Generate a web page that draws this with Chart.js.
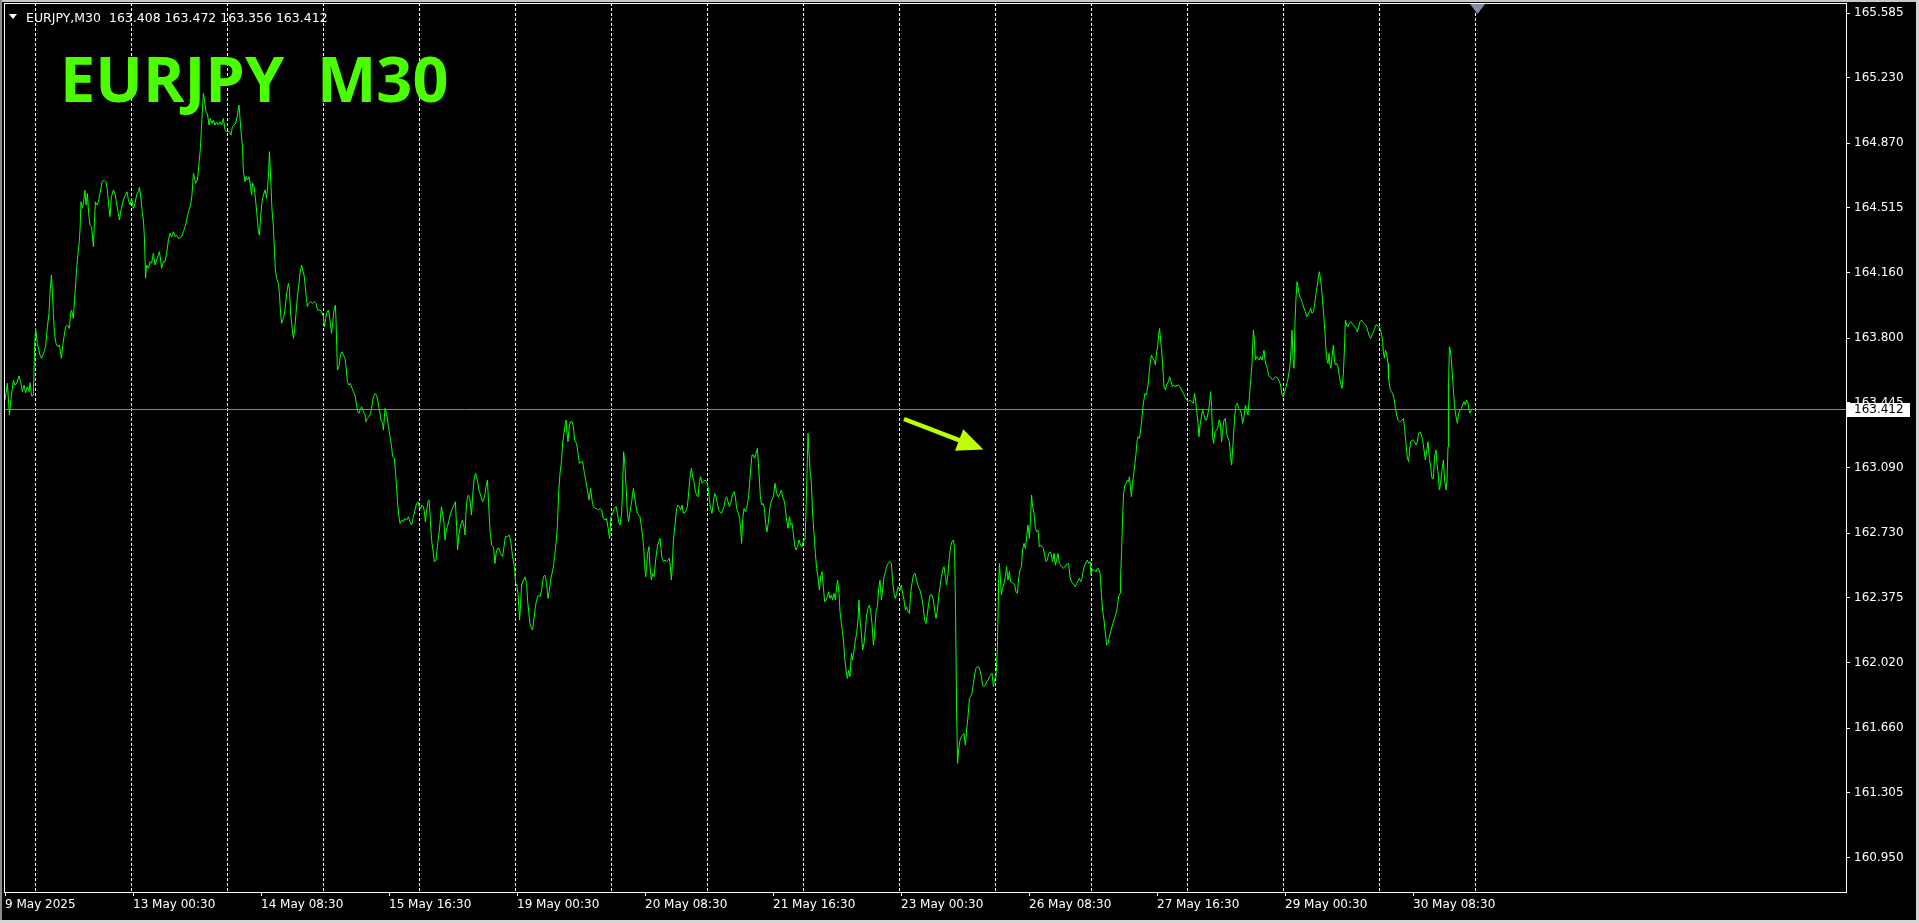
<!DOCTYPE html>
<html>
<head>
<meta charset="utf-8">
<title>EURJPY M30</title>
<script src="https://cdn.jsdelivr.net/npm/chart.js@4.4.1/dist/chart.umd.min.js"></script>
<style>
  html, body { margin: 0; padding: 0; background: #000; overflow: hidden; }
  #wrap { position: relative; width: 1919px; height: 923px; }
  #chart { position: absolute; left: 0; top: 0; }
  .tri { position: absolute; left: 9px; top: 14px; width: 0; height: 0;
         border-left: 4px solid transparent; border-right: 4px solid transparent; border-top: 5px solid #fff; }
  .hdr { position: absolute; left: 26px; top: 12px; color: #fff; white-space: pre;
         font: 12.5px/12.5px "DejaVu Sans", sans-serif; }
  .big { position: absolute; left: 60px; top: 46px; color: #4cff00; white-space: pre;
         font: bold 63px/63px "Open Sans", sans-serif; }
</style>
</head>
<body>
<div id="wrap">
  <canvas id="chart" width="1919" height="923"></canvas>
  <div class="tri"></div>
  <div class="hdr">EURJPY,M30  163.408 163.472 163.356 163.412</div>
  <div class="big">EURJPY  M30</div>
</div>
<script>
// M30 closes: [bar number from 9 May 16:30, price]
const closesWeek1 = [
  [0,163.461],[1.2,163.553],[2.2,163.379],[3.3,163.497],[4.2,163.571],[5,163.543],[5.8,163.553],[7,163.593],[7.8,163.562],[8.7,163.507],
  [9.5,163.543],[10.3,163.501],[11.2,163.534],[12,163.507],[12.5,163.556],[13.3,163.483],[14.2,163.488],[14.8,163.754],[15.3,163.854],[16.2,163.772],
  [17.5,163.708],[18.3,163.690],[19.5,163.726],[20.3,163.754],[21.2,163.863],[22,163.937],[22.5,164.046],[23.2,164.147],[23.7,164.046],[24.2,163.937],
  [24.7,163.827],[25.5,163.772],[26.3,163.754],[27.2,163.763],[28.2,163.690],[28.8,163.754],[29.5,163.808],[30.3,163.863],[31.3,163.872],[32.2,163.854],
  [32.8,163.937],[33.3,163.955],[34.2,163.909],[34.5,163.973],[35.2,164.074],[35.8,164.184],[36.5,164.266],[37,164.312],[37.5,164.394],[38,164.549],
  [38.7,164.513],[39.2,164.540],[40,164.613],[40.5,164.531],[41.2,164.595],[41.8,164.485],[42.5,164.421],[43.3,164.412],[44.2,164.302],[44.7,164.430],
  [45.2,164.549],[45.8,164.531],[46.7,164.549],[47.5,164.595],[48.5,164.659],[49.7,164.668],[50.5,164.659],[51.2,164.614],[52,164.513],[52.5,164.467],
  [53.2,164.577],[54.2,164.614],[55,164.595],[55.8,164.540],[56.7,164.485],[57.2,164.449],[58,164.504],[59.2,164.559],[60.2,164.586],[61,164.604],
  [61.7,164.559],[62.5,164.531],[63.3,164.568],[64.2,164.513],[65,164.540],[65.8,164.586],[66.7,164.604],[67.2,164.628],[67.8,164.586],[68.7,164.485],
  [69.2,164.449],[69.7,164.357],[70.3,164.129],[70.8,164.202],[71.7,164.184],[72.5,164.220],[73.3,164.211],[74.2,164.266],[75,164.202],[75.8,164.229],
  [76.7,164.257],[77.2,164.275],[77.8,164.229],[78.3,164.184],[79.2,164.220],[80,164.220],[80.8,164.266],[81.7,164.339],[82.5,164.376],[83.3,164.357],
  [84.2,164.385],[85,164.357],[85.8,164.366],[86.7,164.348],[88.3,164.357],[89.2,164.385],[90.3,164.421],[91.7,164.495],[92.8,164.531],[93.5,164.586],
  [94.2,164.705],[94.7,164.687],[95.3,164.650],[96.2,164.668],[97,164.760],[97.7,164.842],[98.2,164.952],[98.7,165.053],[99.2,165.144],[99.7,165.107],
  [100.5,165.043],[101.2,165.034],[102,164.970],[102.5,165.007],[103.5,164.979],[104.2,164.998],[105,164.970],[105.8,164.988],[106.7,164.970],[107.5,164.988],
  [108.3,164.970],[109.2,165.007],[110,164.943],[110.8,164.934],[112.2,164.934],[113,164.915],[113.7,164.961],[114.5,164.970],[115.3,164.979],[116.2,165.025],
  [117,165.080],[117.5,165.007],[118,164.934],[118.7,164.860],[119.2,164.714],[120,164.659],[120.5,164.687],[121.2,164.668],[122,164.687],[122.8,164.632],
  [123.3,164.586],[123.8,164.650],[124.5,164.632],[125.3,164.559],[126.2,164.449],[126.7,164.385],[127.2,164.366],[127.8,164.467],[128.5,164.549],[129.2,164.586],
  [130,164.614],[130.8,164.568],[131.3,164.632],[131.8,164.705],[132.2,164.824],[132.5,164.760],[133,164.632],[133.5,164.504],[134.2,164.412],[134.7,164.284],
  [135.2,164.174],[135.8,164.129],[136.7,164.101],[137.2,164.046],[137.8,163.937],[138.3,163.882],[139.2,163.909],[140,163.955],[140.8,164.046],[141.7,164.101],
  [142.2,164.074],[142.8,163.937],[143.5,163.863],[144.2,163.799],[144.8,163.845],[145.5,163.937],[146.2,164.028],[146.8,164.083],[147.5,164.156],[148.3,164.202],
  [148.8,164.174],[149.5,164.147],[150,164.101],[150.5,164.037],[151.2,163.973],[151.8,163.991],[152.8,164.001],[153.7,163.991],[154.7,164.001],[155.5,163.991],
  [156.3,163.955],[157.5,163.955],[158.3,163.946],[159.2,163.918],[159.7,163.863],[160.3,163.909],[160.8,163.937],[161.7,163.955],[162.2,163.927],[162.8,163.863],
  [163.3,163.827],[163.8,163.882],[164.5,163.955],[165.2,163.982],[165.5,163.900],[166.2,163.626],[167,163.644],[167.5,163.690],[168,163.717],[168.5,163.726],
  [169.2,163.708],[170,163.690],[170.5,163.644],[171.2,163.562],[172,163.543],[172.7,163.553],[173.5,163.525],[174.2,163.507],[175,163.488],[175.8,163.433],
  [176.3,163.397],[177,163.388],[177.5,163.406],[178.3,163.424],[179.2,163.397],[180,163.379],[180.5,163.342],[181.2,163.360],[182,163.369],[182.8,163.388],
  [183.7,163.443],[184.2,163.479],[185,163.497],[185.8,163.488],[186.3,163.461],[187,163.415],[187.5,163.388],[188,163.351],[188.8,163.333],[189.2,163.296],
  [189.7,163.369],[190,163.415],[190.8,163.388],[191.7,163.314],[192.5,163.260],[193.3,163.205],[193.8,163.150],[194.7,163.141],[195.3,163.058],[195.8,162.985],
  [196.3,162.894],[197,162.820],[197.5,162.784],[198.3,162.802],[199.2,162.793],[200,162.811],[200.8,162.802],[201.7,162.820],[202.5,162.793],[203.3,162.775],
  [204.2,162.820],[205,162.857],[205.8,162.894],[206.5,162.903],[207.2,162.875],[207.8,162.866],[208.5,162.885],[209.2,162.875],[209.7,162.848],[210.2,162.793],
  [210.8,162.857],[211.5,162.903],[212,162.912],[212.5,162.839],[213,162.738],[213.5,162.674],[214.2,162.619],[214.7,162.574],[215.5,162.583],[216.2,162.656],
  [216.8,162.711],[217.5,162.784],[218.2,162.875],[218.8,162.839],[219.5,162.784],[220,162.693],[220.5,162.738],[221.2,162.766],[222,162.802],[222.8,162.839],
  [223.7,162.866],[224.5,162.885],[225.2,162.903],[225.8,162.766],[226.3,162.638],[227,162.729],[227.8,162.775],[228.7,162.802],[229.5,162.766],[230,162.720],
  [230.5,162.848],[231.2,162.930],[231.8,162.939],[232.5,162.912],[233.2,162.830],[233.8,162.930],[234.5,163.022],[235.3,163.058],[236.2,163.022],[237,162.967]
];
const closesWeek2 = [
  [238.8,162.903],[239.8,162.930],[240.5,162.985],[241.2,163.022],[241.8,162.894],[242.5,162.747],[243.3,162.665],[244.2,162.656],[245,162.564],[245.5,162.619],
  [246.2,162.647],[247,162.647],[247.8,162.619],[248.8,162.601],[249.5,162.656],[250.2,162.711],[251.2,162.711],[252.2,162.720],[253,162.674],[253.8,162.601],
  [254.7,162.546],[255.3,162.455],[255.8,162.446],[256.5,162.400],[257.3,162.253],[257.8,162.345],[258.3,162.446],[259.2,162.473],[260,162.491],[260.8,162.455],
  [261.3,162.363],[262,162.281],[262.5,162.235],[263.2,162.208],[263.8,162.199],[264.5,162.263],[265.2,162.327],[265.8,162.363],[266.7,162.391],[267.5,162.382],
  [268.3,162.418],[269.2,162.491],[270,162.500],[270.8,162.455],[271.5,162.372],[272.2,162.418],[272.8,162.473],[273.5,162.510],[274.2,162.546],[274.8,162.601],
  [275.5,162.674],[276.2,162.766],[276.8,162.949],[277.5,163.058],[278.3,163.132],[278.8,163.223],[279.5,163.278],[280,163.324],[280.5,163.351],[281,163.278],
  [281.5,163.232],[282.2,163.324],[282.8,163.342],[283.5,163.342],[284.2,163.315],[284.8,163.241],[285.8,163.223],[286.5,163.168],[287.2,163.113],[288,163.122],
  [288.8,163.122],[289.7,163.059],[290.5,163.013],[291.2,162.967],[292,162.912],[292.8,162.976],[293.5,162.912],[294.2,162.876],[295,162.866],[295.8,162.866],
  [296.7,162.857],[297.5,162.866],[298.3,162.857],[299.2,162.812],[300,162.802],[300.8,162.812],[301.7,162.748],[302.3,162.702],[303,162.821],[303.8,162.839],
  [304.7,162.866],[305.5,162.876],[306.2,162.839],[306.8,162.793],[307.5,162.775],[308.3,162.839],[308.8,162.985],[309.3,163.177],[309.8,163.132],[310.5,162.994],
  [311.2,162.839],[311.8,162.793],[312.5,162.848],[313.3,162.903],[314.2,162.976],[314.8,162.930],[315.5,162.876],[316.2,162.839],[317.5,162.821],[318.2,162.766],
  [318.8,162.711],[319.3,162.656],[319.8,162.564],[320.3,162.491],[320.8,162.546],[321.3,162.619],[322,162.656],[322.5,162.546],[323.2,162.473],[323.8,162.510],
  [324.5,162.491],[325.5,162.601],[326.2,162.656],[326.8,162.683],[327.5,162.702],[328,162.647],[328.5,162.592],[329.2,162.574],[330,162.583],[330.8,162.574],
  [331.7,162.583],[332.2,162.592],[332.7,162.546],[333.2,162.473],[333.7,162.564],[334.2,162.693],[335,162.775],[335.8,162.866],[336.5,162.885],[337.2,162.876],
  [337.8,162.857],[338.5,162.885],[339.2,162.839],[340.3,162.848],[341.2,162.876],[341.8,162.949],[342.5,163.040],[343.2,163.086],[343.8,163.040],[344.5,163.013],
  [345.2,162.958],[345.8,162.940],[346.5,162.930],[347.2,163.013],[347.8,163.040],[348.5,163.004],[349.2,163.013],[350,163.022],[350.8,163.013],[351.5,162.985],
  [352.2,162.912],[352.8,162.866],[353.5,162.839],[354.2,162.903],[354.8,162.949],[355.5,162.930],[356.2,162.894],[356.8,162.857],[357.5,162.848],[358.2,162.839],
  [358.8,162.857],[359.5,162.876],[360.2,162.921],[360.8,162.930],[361.5,162.903],[362.2,162.876],[362.8,162.894],[363.7,162.940],[364.5,162.958],[365.2,162.930],
  [365.8,162.866],[366.7,162.839],[367.3,162.812],[367.8,162.757],[368.3,162.674],[368.8,162.802],[369.5,162.866],[370.2,162.848],[370.8,162.866],[371.7,162.921],
  [372.2,162.985],[372.8,163.077],[373.5,163.159],[374.2,163.159],[374.8,163.141],[375.5,163.168],[376.2,163.196],[376.7,163.113],[377.2,163.022],[377.7,162.930],
  [378.3,162.885],[379,162.894],[379.7,162.866],[380.3,162.784],[381,162.738],[381.7,162.793],[382.5,162.876],[383.3,162.912],[384.2,162.930],[385,163.004],
  [385.8,162.949],[386.7,162.930],[387.5,162.949],[388.2,162.967],[388.8,162.930],[389.5,162.912],[390.2,162.866],[390.8,162.802],[391.5,162.757],[392.2,162.821],
  [392.8,162.775],[393.5,162.784],[394.2,162.729],[394.8,162.665],[395.5,162.638],[396.2,162.656],[397,162.693],[397.8,162.665],[398.5,162.656],[399.2,162.693],
  [400,162.693],[400.5,162.848],[401,163.058],[401.5,163.278],[402,163.168],[402.5,163.077],[403.2,163.004],[403.8,162.839],[404.5,162.729],[405.2,162.619],
  [405.8,162.537],[406.5,162.491],[407.2,162.418],[407.8,162.491],[408.5,162.519],[409.2,162.436],[409.8,162.354],[410.5,162.363],[411.2,162.382],[411.8,162.409],
  [412.5,162.372],[413.2,162.391],[413.8,162.363],[414.5,162.400],[415.2,162.363],[415.8,162.436],[416.3,162.473],[417,162.400],[417.5,162.299],[418.3,162.226],
  [419.2,162.144],[419.8,162.052],[420.5,161.979],[421.2,161.933],[421.8,161.979],[422.5,161.943],[423.2,162.071],[423.8,162.034],[424.5,162.089],[425.2,162.144],
  [425.8,162.180],[426.5,162.253],[427,162.363],[427.5,162.253],[428.2,162.180],[428.8,162.089],[429.5,162.126],[430.2,162.199],[430.8,162.281],[431.5,162.318],
  [432.2,162.336],[432.8,162.308],[433.5,162.235],[434.2,162.116],[434.8,162.180],[435.5,162.299],[436.2,162.327],[436.8,162.418],[437.5,162.473],[438.2,162.363],
  [438.8,162.418],[439.5,162.491],[440.2,162.519],[440.8,162.546],[441.5,162.564],[442.5,162.574],[443.2,162.564],[443.8,162.464],[444.5,162.400],[445.2,162.372],
  [445.8,162.400],[446.5,162.436],[447.5,162.418],[448.2,162.446],[448.8,162.400],[449.5,162.363],[450.2,162.308],[450.8,162.327],[451.5,162.299],[452.2,162.290],
  [452.8,162.400],[453.5,162.455],[454.2,162.500],[455,162.510],[455.8,162.473],[456.7,162.436],[457.5,162.418],[458.3,162.382],[459.2,162.318],[459.8,162.253],
  [460.5,162.235],[461.2,162.290],[461.8,162.345],[462.5,162.391],[463.5,162.391],[464.2,162.363],[464.8,162.308],[465.5,162.263],[466.2,162.308],[466.8,162.382],
  [467.5,162.436],[468.2,162.491],[468.8,162.528],[469.5,162.546],[470.2,162.491],[470.8,162.446],[471.5,162.510],[472.2,162.601],[472.8,162.656],[473.5,162.683],
  [474.2,162.693],[474.8,162.647],[475.3,162.290],[475.8,161.741],[476.3,161.467],[476.8,161.540],[477.5,161.595],[478.2,161.613],[478.8,161.622],[479.5,161.631],
  [480.2,161.567],[480.8,161.650],[481.5,161.723],[482.2,161.824],[482.8,161.833],[483.5,161.851],[484.2,161.906],[484.8,161.952],[485.5,161.988],[486.2,161.997],
  [486.8,161.997],[487.5,161.979],[488.2,161.943],[488.8,161.897],[489.5,161.888],[490.2,161.897],[490.8,161.915],[491.5,161.924],[492.2,161.943],[492.8,161.952],
  [493.5,161.961],[494.2,161.888],[494.8,161.924],[495.5,161.943],[496.2,162.098],[496.8,162.455],[497.2,162.564]
];
const closesWeek3 = [
  [498.2,162.391],[498.8,162.427],[499.5,162.455],[500.2,162.491],[500.8,162.546],[501.5,162.473],[502.2,162.519],[502.8,162.464],[504.2,162.455],[504.8,162.446],
  [505.5,162.409],[506.2,162.400],[506.8,162.482],[507.5,162.528],[508.2,162.546],[508.8,162.638],[509.5,162.674],[510.2,162.647],[510.8,162.711],[511.5,162.775],
  [512.2,162.702],[512.8,162.821],[513.3,162.940],[513.8,162.876],[514.5,162.839],[515.2,162.757],[515.8,162.738],[516.5,162.747],[517.2,162.656],[517.8,162.665],
  [519.2,162.647],[519.8,162.610],[520.5,162.574],[521.2,162.583],[521.8,162.619],[522.5,162.628],[523.2,162.610],[523.8,162.574],[524.5,162.619],[525.2,162.555],
  [525.8,162.583],[526.5,162.619],[527.2,162.564],[528.5,162.546],[529.2,162.537],[530.5,162.555],[531.8,162.564],[532.5,162.491],[533.2,162.464],[534.5,162.446],
  [535.2,162.436],[535.8,162.455],[537.2,162.482],[537.8,162.464],[538.5,162.482],[539.2,162.528],[539.8,162.555],[541.2,162.583],[541.8,162.564],[542.5,162.574],
  [543,162.500],[543.5,162.528],[544.8,162.528],[545.5,162.519],[546.2,162.537],[546.8,162.537],[547.5,162.510],[548.2,162.400],[548.8,162.308],[549.5,162.253],
  [550.2,162.180],[550.8,162.116],[551.5,162.125],[552.2,162.162],[552.8,162.189],[553.5,162.217],[554.2,162.244],[554.8,162.263],[555.5,162.290],[556.2,162.327],
  [556.8,162.382],[557.5,162.400],[557.8,162.491],[558.3,162.629],[558.8,162.821],[559.3,162.949],[560,162.994],[560.5,163.004],[561.2,163.022],[561.8,163.013],
  [562.2,163.040],[562.7,162.985],[563.2,162.931],[563.7,163.004],[564.2,163.040],[564.8,163.095],[565.5,163.168],[566,163.232],[566.5,163.260],[567.2,163.251],
  [567.8,163.296],[568.3,163.342],[568.8,163.406],[569.3,163.452],[570,163.497],[570.5,163.488],[571,163.507],[571.5,163.543],[572,163.598],[572.5,163.653],
  [573.2,163.708],[573.8,163.690],[574.5,163.680],[575.2,163.653],[575.8,163.726],[576.3,163.754],[576.8,163.818],[577.3,163.854],[577.8,163.790],[578.3,163.735],
  [578.7,163.680],[579.2,163.589],[579.5,163.534],[580.2,163.516],[580.8,163.543],[581.7,163.562],[582.3,163.589],[583,163.562],[583.7,163.534],[584.3,163.543],
  [585,163.534],[586.7,163.543],[587.5,163.534],[588.3,163.516],[589.2,163.497],[590,163.479],[590.8,163.461],[591.7,163.452],[592.5,163.461],[593.3,163.452],
  [594.2,163.443],[594.8,163.497],[595.3,163.461],[595.8,163.406],[596.5,163.333],[597,163.260],[597.5,163.324],[598.2,163.370],[598.8,163.406],[599.5,163.379],
  [600.2,163.351],[600.8,163.351],[601.5,163.388],[602.2,163.433],[602.8,163.507],[603.3,163.424],[603.8,163.260],[604.3,163.223],[605,163.287],[605.7,163.296],
  [606.3,163.305],[607,163.351],[607.7,163.333],[608.3,163.232],[608.8,163.296],[609.5,163.351],[610.2,163.360],[610.8,163.278],[611.5,163.251],[612.2,163.232],
  [612.8,163.150],[613.3,163.104],[613.8,163.187],[614.3,163.269],[614.8,163.370],[615.5,163.433],[616.2,163.443],[616.8,163.415],[617.5,163.406],[618.2,163.388],
  [618.8,163.333],[619.5,163.370],[620.2,163.433],[620.8,163.406],[621.5,163.379],[622.2,163.479],[622.8,163.562],[623.5,163.662],[624.2,163.845],[624.7,163.790],
  [625.2,163.680],[625.8,163.699],[627.2,163.680],[627.8,163.699],[628.5,163.680],[629.2,163.717],[629.5,163.735],[630,163.680],[630.5,163.653],[631.2,163.635],
  [631.8,163.598],[633.2,163.580],[633.8,163.571],[635.2,163.589],[636.5,163.580],[637.2,163.562],[637.8,163.543],[638.5,163.488],[639.2,163.479],[639.8,163.507],
  [640.5,163.534],[641.2,163.562],[641.8,163.598],[642.5,163.653],[643,163.735],[643.5,163.845],[644,163.690],[644.5,163.635],[645,163.891],[645.5,164.019],
  [646,164.110],[646.5,164.083],[647,164.046],[647.5,164.028],[648.2,164.010],[648.8,163.991],[649.5,163.964],[650.2,163.946],[650.8,163.918],[651.5,163.928],
  [652.2,163.946],[652.8,163.964],[653.5,163.937],[654.2,163.946],[654.8,163.982],[655.5,164.046],[656.2,164.092],[656.7,164.138],[657.2,164.165],[657.7,164.129],
  [658.2,164.083],[658.8,164.001],[659.5,163.909],[660,163.827],[660.5,163.735],[661,163.680],[661.5,163.662],[662,163.717],[662.5,163.653],[663,163.635],
  [663.5,163.699],[664.2,163.763],[664.7,163.680],[665.2,163.653],[665.8,163.662],[666.5,163.644],[667.2,163.589],[667.8,163.552],[668.5,163.525],[669.2,163.607],
  [669.7,163.735],[670.2,163.900],[670.8,163.873],[671.5,163.863],[672.2,163.882],[672.8,163.891],[674.2,163.873],[674.8,163.863],[675.5,163.854],[676.2,163.836],
  [676.8,163.863],[677.5,163.891],[678.2,163.900],[678.8,163.891],[679.5,163.882],[680.2,163.873],[680.8,163.863],[681.5,163.836],[682.2,163.809],[682.8,163.799],
  [683.5,163.818],[684.2,163.836],[684.8,163.854],[685.5,163.873],[686.2,163.873],[686.8,163.863],[687.5,163.854],[688.2,163.827],[688.8,163.781],[689.2,163.726],
  [689.7,163.690],[690.2,163.735],[690.8,163.717],[691.5,163.662],[691.8,163.580],[692.5,163.525],[693.2,163.507],[693.8,163.497],[694.5,163.470],[695.2,163.415],
  [695.8,163.379],[696.5,163.351],[697.2,163.342],[697.8,163.342],[698.5,163.351],[699.2,163.360],[699.8,163.305],[700.5,163.223],[701.2,163.141],[701.8,163.122],
  [702.3,163.187],[702.8,163.232],[703.5,163.241],[704.2,163.241],[704.8,163.232],[705.5,163.214],[706.2,163.232],[706.8,163.278],[707.5,163.287],[708.2,163.269],
  [708.8,163.241],[709.5,163.187],[710.2,163.132],[710.8,163.177],[711.5,163.232],[712.2,163.141],[712.8,163.095],[713.5,163.031],[714.2,163.031],[714.8,163.150],
  [715.5,163.187],[716,163.113],[716.5,163.068],[717.2,162.967],[717.8,163.004],[718.5,163.077],[719.2,163.132],[719.8,163.022],[720.5,162.967],[721,163.022],
  [721.5,163.205],[721.8,163.552],[722.2,163.754],[722.7,163.735],[723.2,163.680],[723.7,163.598],[724.2,163.516],[724.8,163.424],[725.5,163.370],[726.2,163.333],
  [726.8,163.388],[727.5,163.406],[728.2,163.415],[728.8,163.433],[729.5,163.452],[730.2,163.433],[730.8,163.461],[731.5,163.443],[732,163.406],[732.5,163.388],
  [733.2,163.406],[734,163.412]
];

// time axis labels and where they sit (bar numbers)
const timeLabelBars = [0, 64, 128, 192, 256, 320, 384, 448, 512, 576, 640, 704];
const timeLabels = ['9 May 2025', '13 May 00:30', '14 May 08:30', '15 May 16:30', '19 May 00:30', '20 May 08:30',
                    '21 May 16:30', '23 May 00:30', '26 May 08:30', '27 May 16:30', '29 May 00:30', '30 May 08:30'];
// day separators (first bar of each trading day)
const dayStartBars = [15, 63, 111, 159, 207, 255, 303, 351, 399, 447, 495, 543, 591, 639, 687, 735];
const priceTicks = [165.585, 165.230, 164.870, 164.515, 164.160, 163.800, 163.445, 163.090,
                    162.730, 162.375, 162.020, 161.660, 161.305, 160.950];
const bidPrice = 163.412;
const shiftMarkBar = 736;
// annotation arrow: [bar, price] of tail and tip
const arrowTail = [449.5, 163.357];
const arrowTip = [489.2, 163.190];

const axisFont = { family: 'DejaVu Sans', size: 12 };

const mtDecor = {
  id: 'mtDecor',
  afterDatasetsDraw(chart) {
    const { ctx, chartArea: a, scales } = chart;
    // bid line
    const yb = Math.round(scales.y.getPixelForValue(bidPrice)) + 0.5;
    ctx.save();
    ctx.strokeStyle = '#778899';
    ctx.lineWidth = 1;
    ctx.beginPath();
    ctx.moveTo(a.left, yb);
    ctx.lineTo(a.right, yb);
    ctx.stroke();
    // arrow
    const x1 = scales.x.getPixelForValue(arrowTail[0]), y1 = scales.y.getPixelForValue(arrowTail[1]);
    const x2 = scales.x.getPixelForValue(arrowTip[0]), y2 = scales.y.getPixelForValue(arrowTip[1]);
    const ang = Math.atan2(y2 - y1, x2 - x1);
    const headLen = 26, headHalf = 11.5;
    const bx = x2 - headLen * Math.cos(ang), by = y2 - headLen * Math.sin(ang);
    ctx.strokeStyle = '#bbff00';
    ctx.fillStyle = '#bbff00';
    ctx.lineWidth = 4.5;
    ctx.beginPath();
    ctx.moveTo(x1, y1);
    ctx.lineTo(bx + 2 * Math.cos(ang), by + 2 * Math.sin(ang));
    ctx.stroke();
    ctx.beginPath();
    ctx.moveTo(x2, y2);
    ctx.lineTo(bx + headHalf * Math.sin(ang), by - headHalf * Math.cos(ang));
    ctx.lineTo(bx - headHalf * Math.sin(ang), by + headHalf * Math.cos(ang));
    ctx.closePath();
    ctx.fill();
    ctx.restore();
  },
  afterDraw(chart) {
    const { ctx, chartArea: a, scales } = chart;
    ctx.save();
    // window edges
    ctx.fillStyle = '#c8c8c8';
    ctx.fillRect(0, 0, chart.width, 2);
    ctx.fillStyle = '#8c8c8c';
    ctx.fillRect(0, 0, 2, chart.height);
    ctx.fillStyle = '#d4d4d4';
    ctx.fillRect(1916, 0, 3, chart.height);
    ctx.fillRect(0, 920, chart.width, 3);
    // chart frame
    ctx.strokeStyle = '#ffffff';
    ctx.lineWidth = 1;
    ctx.strokeRect(a.left + 0.5, a.top + 0.5, a.right - a.left, a.bottom - a.top);
    // bid price label
    const yb = Math.round(scales.y.getPixelForValue(bidPrice));
    ctx.fillStyle = '#ffffff';
    ctx.fillRect(a.right + 1, yb - 6, 63, 14);
    ctx.fillStyle = '#000000';
    ctx.font = '12px "DejaVu Sans"';
    ctx.textBaseline = 'middle';
    ctx.textAlign = 'left';
    ctx.fillText(bidPrice.toFixed(3), a.right + 8, yb + 1);
    // chart shift marker
    const xs = Math.round(scales.x.getPixelForValue(shiftMarkBar));
    ctx.fillStyle = '#7f8fa0';
    ctx.beginPath();
    ctx.moveTo(xs - 7, a.top + 1);
    ctx.lineTo(xs + 8, a.top + 1);
    ctx.lineTo(xs + 0.5, a.top + 11);
    ctx.closePath();
    ctx.fill();
    ctx.restore();
  }
};

const series = [].concat(closesWeek1, closesWeek2, closesWeek3).map(([x, y]) => ({ x, y }));

new Chart(document.getElementById('chart'), {
  type: 'line',
  data: {
    datasets: [{
      label: 'EURJPY,M30',
      data: series,
      borderColor: '#00ff00',
      borderWidth: 1,
      pointRadius: 0,
      tension: 0,
      fill: false
    }]
  },
  options: {
    responsive: false,
    animation: false,
    layout: { padding: { left: 4, top: 3, right: 0, bottom: 0 } },
    plugins: {
      legend: { display: false },
      tooltip: { enabled: false }
    },
    scales: {
      x: {
        type: 'linear',
        position: 'bottom',
        min: -0.5,
        max: 920.5,
        afterBuildTicks: s => { s.ticks = timeLabelBars.map(v => ({ value: v })); },
        afterFit: s => { s.height = 31; s.paddingLeft = 0; s.paddingRight = 0; },
        ticks: {
          color: '#ffffff',
          font: axisFont,
          align: 'start',
          maxRotation: 0,
          autoSkip: false,
          padding: 2,
          callback: (v, i) => timeLabels[i]
        },
        grid: { drawOnChartArea: false, drawTicks: true, tickLength: 4, tickColor: '#ffffff' },
        border: { display: false }
      },
      days: {
        axis: 'x',
        type: 'linear',
        position: 'top',
        min: -0.5,
        max: 920.5,
        afterBuildTicks: s => { s.ticks = dayStartBars.map(v => ({ value: v })); },
        afterFit: s => { s.height = 0; s.paddingLeft = 0; s.paddingRight = 0; },
        ticks: { display: false },
        grid: { color: '#ffffff', lineWidth: 1, drawTicks: false },
        border: { display: false, dash: [3, 2] }
      },
      y: {
        type: 'linear',
        position: 'right',
        min: 160.761,
        max: 165.640,
        afterBuildTicks: s => { s.ticks = priceTicks.map(v => ({ value: v })); },
        afterFit: s => { s.width = 73; s.paddingTop = 0; s.paddingBottom = 0; },
        ticks: {
          color: '#ffffff',
          font: axisFont,
          padding: 4,
          autoSkip: false,
          callback: v => v.toFixed(3)
        },
        grid: { drawOnChartArea: false, drawTicks: true, tickLength: 4, tickColor: '#ffffff' },
        border: { display: false }
      }
    }
  },
  plugins: [mtDecor]
});
</script>
</body>
</html>
